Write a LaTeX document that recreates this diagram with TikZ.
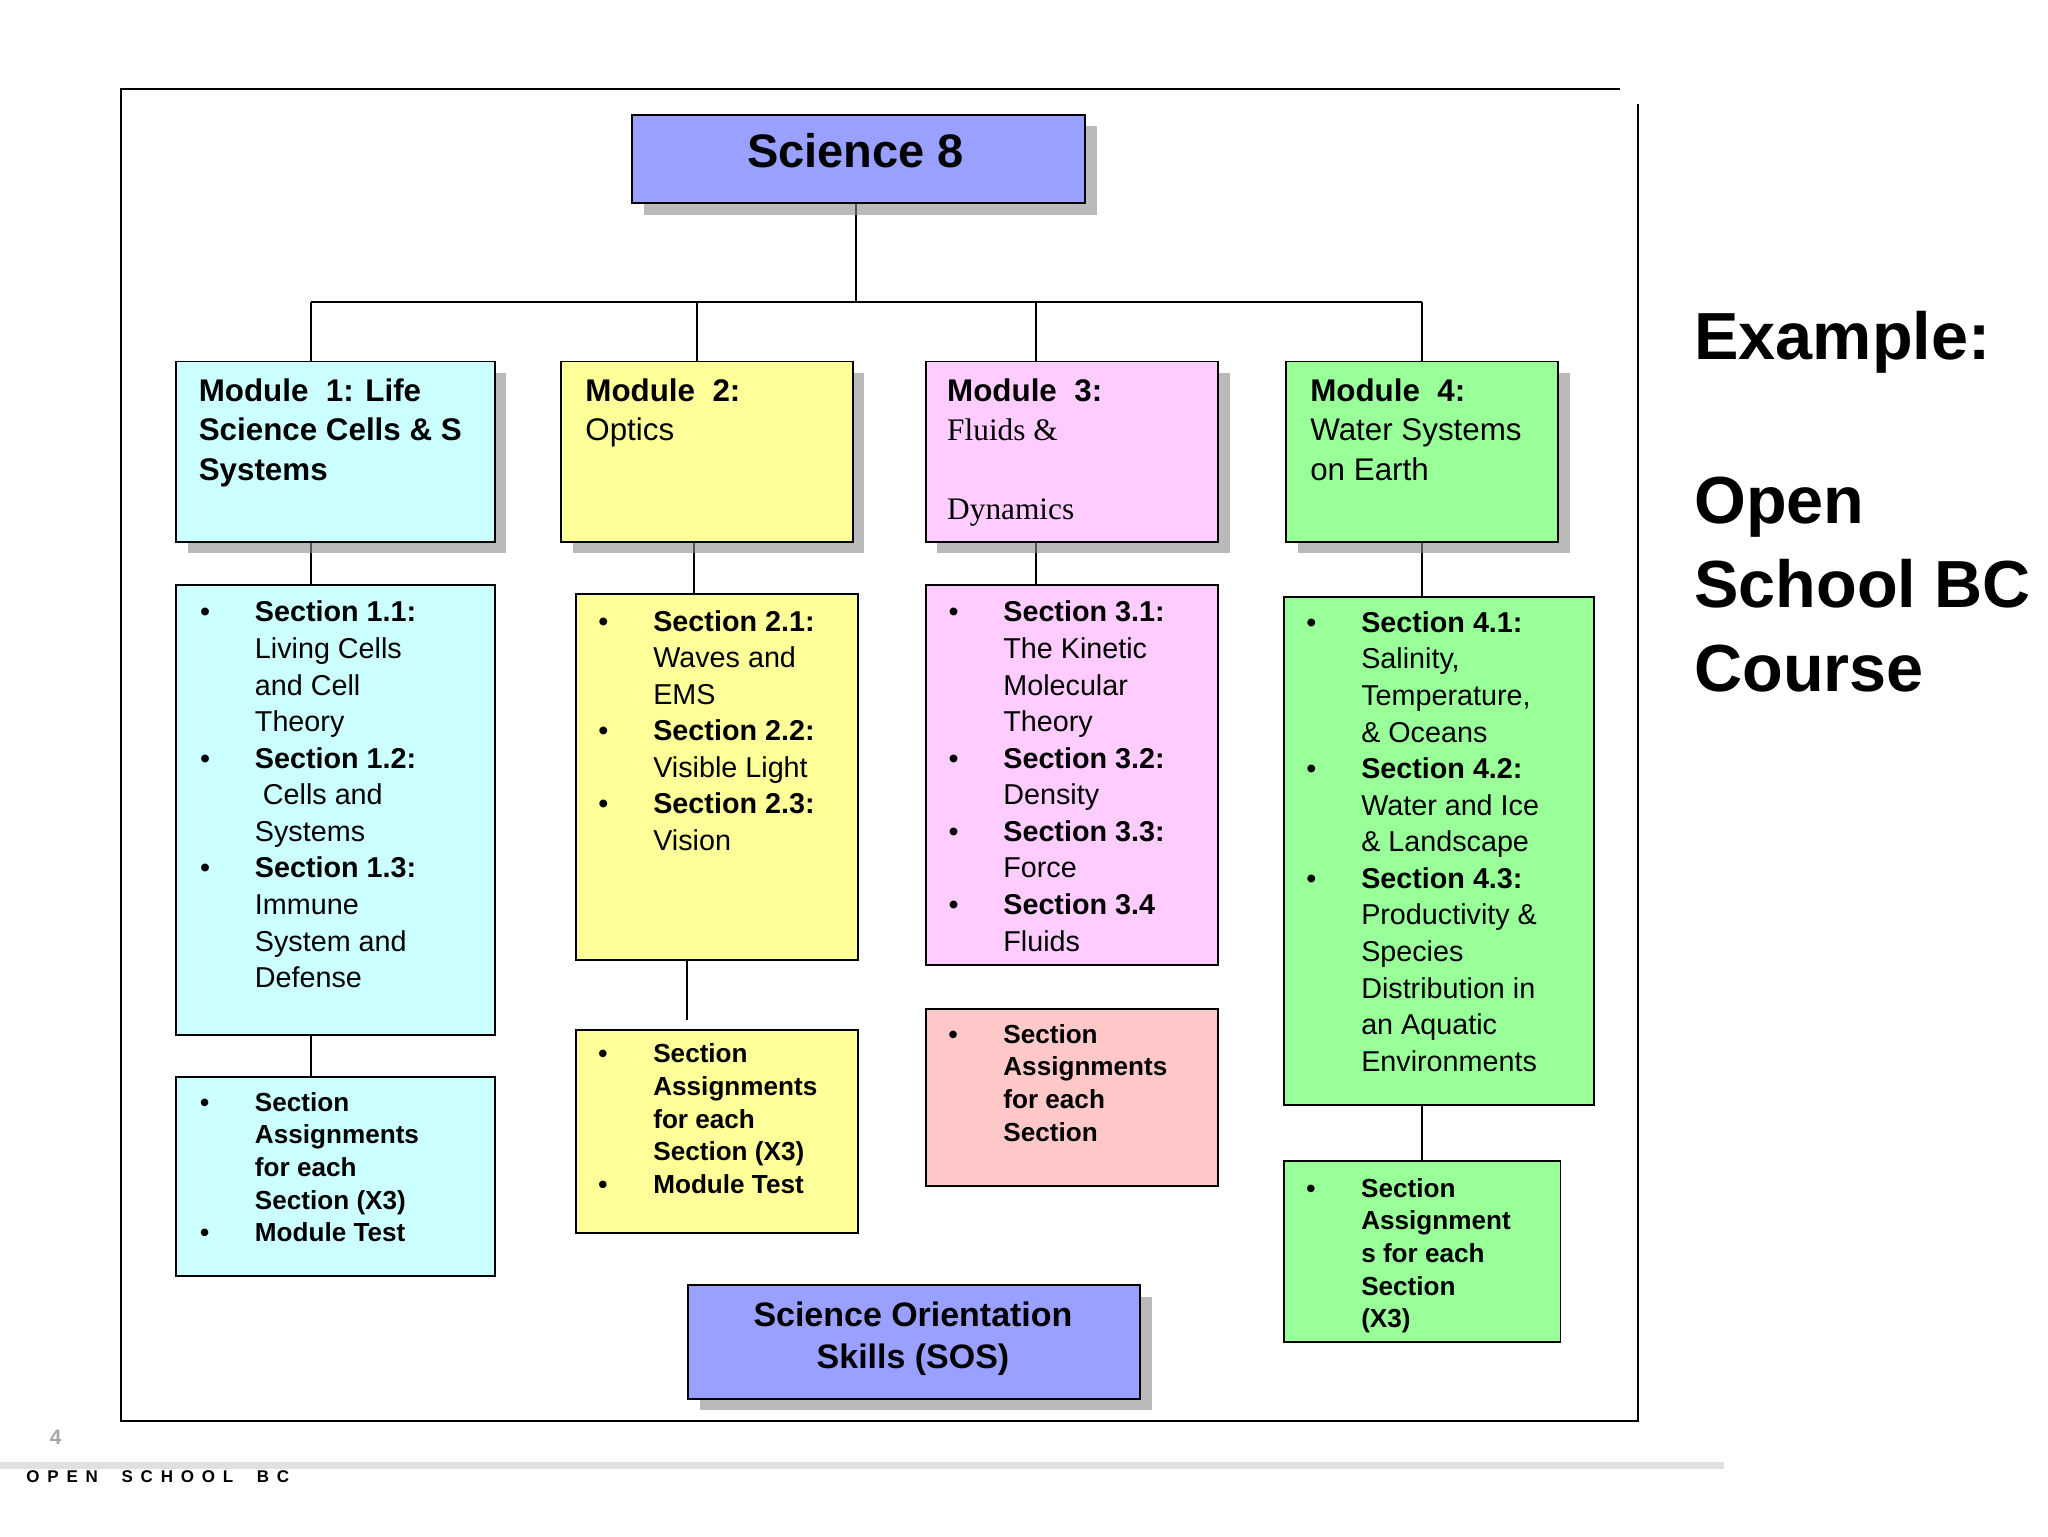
\documentclass[tikz,border=0pt]{standalone}
\usepackage{fontspec}
\setmainfont{Liberation Sans}
\newfontfamily\serifx{Liberation Serif}
\usetikzlibrary{shadows}
\definecolor{cblue}{HTML}{99A0FF}
\definecolor{ccyan}{HTML}{CCFFFF}
\definecolor{cyel}{HTML}{FFFF99}
\definecolor{cpink}{HTML}{FFCCFF}
\definecolor{cgreen}{HTML}{99FF99}
\definecolor{csalm}{HTML}{FFC8C8}
\tikzset{
 box/.style={draw=black,line width=1.5pt,anchor=north west,inner sep=0pt},
 shad/.style={drop shadow={shadow xshift=9pt,shadow yshift=-9pt,fill=black!45,opacity=0.6}},
 txt/.style={anchor=north west,inner sep=0pt,align=left},
 ln/.style={line width=1.5pt}
}
\newcommand{\li}[1]{\makebox[42pt][l]{\textbullet}#1}
\newcommand{\lc}[1]{\hspace*{42pt}#1}
\begin{document}
\begin{tikzpicture}[x=1pt,y=-1pt]
\useasboundingbox (0,0) rectangle (1568,1176);
\fill[white] (0,0) rectangle (1568,1176);
% frame
\draw[ln] (1240,68) -- (93,68) -- (93,1088) -- (1254,1088) -- (1254,80);
% connectors
\coordinate (hl) at (238,231); \coordinate (hr) at (1089,231);
\draw[ln] (655,155) -- (655,231);
\draw[ln] (hl) -- (hr);
\draw[ln] (238,231) -- (238,276);
\draw[ln] (534,231) -- (534,276);
\draw[ln] (793,231) -- (793,276);
\draw[ln] (1089,231) -- (1089,276);
\draw[ln] (238,414) -- (238,447);
\draw[ln] (531,414) -- (531,454);
\draw[ln] (793,414) -- (793,447);
\draw[ln] (1089,414) -- (1089,456);
\draw[ln] (238,792) -- (238,824);
\draw[ln] (526,734) -- (526,781);
\draw[ln] (1089,845) -- (1089,888);
% top
\node[box,shad,fill=cblue,minimum width=347pt,minimum height=68pt] (top) at (483,87) {};
\node[font=\bfseries\fontsize{36}{40}\selectfont] at (655,115) {Science 8};
% modules
\node[box,shad,fill=ccyan,minimum width=244pt,minimum height=138pt] (m1) at (134,276) {};
\node[box,shad,fill=cyel,minimum width=223pt,minimum height=138pt] (m2) at (429,276) {};
\node[box,shad,fill=cpink,minimum width=224pt,minimum height=138pt] (m3) at (708,276) {};
\node[box,shad,fill=cgreen,minimum width=208pt,minimum height=138pt] (m4) at (984,276) {};
\begin{scope}[every node/.style={txt,font=\fontsize{24}{30}\selectfont}]
\node at (152,290) {\textbf{Module\ \ 1: Life}\\\textbf{Science Cells \& S}\\\textbf{Systems}};
\node at (448,290) {\textbf{Module\ \ 2:}\\Optics};
\node at (725,290) {\textbf{Module\ \ 3:}\\{\serifx Fluids \&}\\[30pt]{\serifx Dynamics}};
\node at (1003,290) {\textbf{Module\ \ 4:}\\Water Systems\\on Earth};
\end{scope}
% sections
\node[box,fill=ccyan,minimum width=244pt,minimum height=345pt] (s1) at (134,447) {};
\node[box,fill=cyel,minimum width=216pt,minimum height=280pt] (s2) at (440,454) {};
\node[box,fill=cpink,minimum width=224pt,minimum height=291pt] (s3) at (708,447) {};
\node[box,fill=cgreen,minimum width=238pt,minimum height=389pt] (s4) at (982,456) {};
\begin{scope}[every node/.style={txt,font=\fontsize{22}{28}\selectfont}]
\node at (153,460) {\li{\textbf{Section 1.1:}}\\\lc{Living Cells}\\\lc{and Cell}\\\lc{Theory}\\\li{\textbf{Section 1.2:}}\\\lc{\ Cells and}\\\lc{Systems}\\\li{\textbf{Section 1.3:}}\\\lc{Immune}\\\lc{System and}\\\lc{Defense}};
\node at (458,467) {\li{\textbf{Section 2.1:}}\\\lc{Waves and}\\\lc{EMS}\\\li{\textbf{Section 2.2:}}\\\lc{Visible Light}\\\li{\textbf{Section 2.3:}}\\\lc{Vision}};
\node at (726,460) {\li{\textbf{Section 3.1:}}\\\lc{The Kinetic}\\\lc{Molecular}\\\lc{Theory}\\\li{\textbf{Section 3.2:}}\\\lc{Density}\\\li{\textbf{Section 3.3:}}\\\lc{Force}\\\li{\textbf{Section 3.4}}\\\lc{Fluids}};
\node at (1000,468) {\li{\textbf{Section 4.1:}}\\\lc{Salinity,}\\\lc{Temperature,}\\\lc{\& Oceans}\\\li{\textbf{Section 4.2:}}\\\lc{Water and Ice}\\\lc{\& Landscape}\\\li{\textbf{Section 4.3:}}\\\lc{Productivity \&}\\\lc{Species}\\\lc{Distribution in}\\\lc{an Aquatic}\\\lc{Environments}};
\end{scope}
% assignments
\node[box,fill=ccyan,minimum width=244pt,minimum height=152pt] (a1) at (134,824) {};
\node[box,fill=cyel,minimum width=216pt,minimum height=155pt] (a2) at (440,788) {};
\node[box,fill=csalm,minimum width=224pt,minimum height=135pt] (a3) at (708,772) {};
\node[box,fill=cgreen,minimum width=212pt,minimum height=139pt] (a4) at (982,888) {};
\begin{scope}[every node/.style={txt,font=\bfseries\fontsize{20}{25}\selectfont}]
\node at (153,836) {\li{Section}\\\lc{Assignments}\\\lc{for each}\\\lc{Section (X3)}\\\li{Module Test}};
\node at (458,799) {\li{Section}\\\lc{Assignments}\\\lc{for each}\\\lc{Section (X3)}\\\li{Module Test}};
\node at (726,784) {\li{Section}\\\lc{Assignments}\\\lc{for each}\\\lc{Section}};
\node at (1000,902) {\li{Section}\\\lc{Assignment}\\\lc{s for each}\\\lc{Section}\\\lc{(X3)}};
\end{scope}
% SOS
\node[box,shad,fill=cblue,minimum width=346pt,minimum height=87pt] (sos) at (526,983) {};
\node[align=center,font=\bfseries\fontsize{26}{32}\selectfont] at (699,1025) {Science Orientation\\Skills (SOS)};
% right text
\node[txt,font=\bfseries\fontsize{51}{64}\selectfont] (ex) at (1297,238) {Example:\\[62pt]Open\\School BC\\Course};
% footer
\draw[line width=5pt,black!12] (0,1122) -- (1320,1122);
\node[txt,font=\bfseries\fontsize{16}{16}\selectfont,text=black!35] (pg) at (38,1095) {4};
\node[txt,font=\bfseries\fontsize{13}{13}\selectfont] (osbc) at (20,1126) {O\hspace{6pt}P\hspace{6pt}E\hspace{6pt}N\hspace{18pt}S\hspace{6pt}C\hspace{6pt}H\hspace{6pt}O\hspace{6pt}O\hspace{6pt}L\hspace{18pt}B\hspace{6pt}C};
\end{tikzpicture}
\end{document}
